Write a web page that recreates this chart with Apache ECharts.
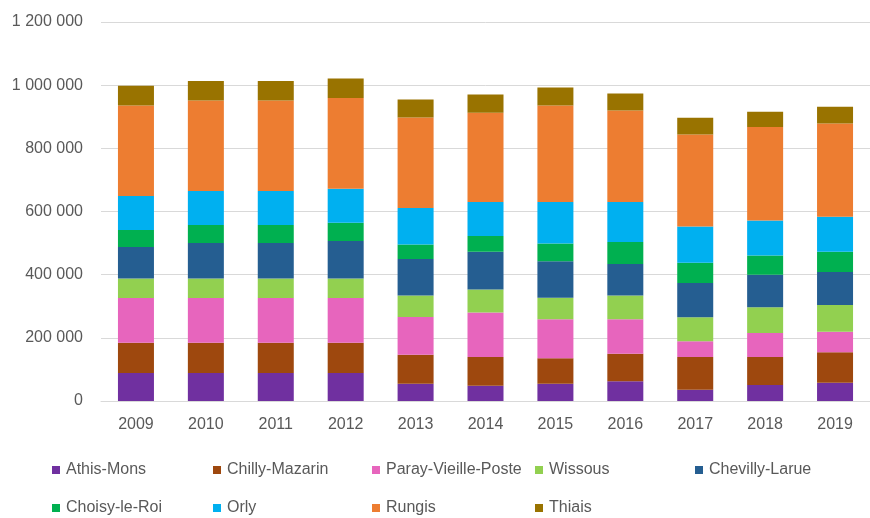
<!DOCTYPE html>
<html>
<head>
<meta charset="utf-8">
<script src="https://cdn.jsdelivr.net/npm/echarts@6/dist/echarts.min.js"></script>
<style>
  html, body { margin: 0; padding: 0; background: #fff; }
  #chart { width: 870px; height: 518px; }
</style>
</head>
<body>
<div id="chart"></div>
<script>
const years = ['2009', '2010', '2011', '2012', '2013', '2014', '2015', '2016', '2017', '2018', '2019'];

// values
const athisMons = [88600, 88600, 88600, 88600, 54900, 48500, 54900, 62300, 35900, 50600, 58000];
const chillyMazarin = [96000, 96000, 96000, 96000, 91700, 90800, 80100, 87500, 103400, 88700, 96000];
const parayVieillePoste = [141400, 141400, 141400, 141400, 119300, 141300, 123500, 108700, 49600, 75900, 65400];
const wissous = [62200, 62200, 62200, 62200, 68500, 72800, 68500, 75900, 75900, 81300, 84400];
const chevillyLarue = [99200, 111800, 111800, 118200, 115000, 119200, 115100, 99200, 108700, 103300, 104500];
const choisyLeRoi = [53800, 57000, 57000, 58000, 46500, 49600, 56900, 69600, 64300, 61200, 64300];
const orly = [107600, 107600, 107600, 107600, 114900, 107600, 130800, 126600, 115000, 110800, 110800];
const rungis = [287000, 287000, 287000, 287000, 287000, 282800, 306000, 290200, 291200, 295400, 295400];
const thiais = [62200, 61200, 61200, 62200, 57000, 58000, 57000, 53800, 52700, 48500, 52800];

const seriesNames = ['Athis-Mons', 'Chilly-Mazarin', 'Paray-Vieille-Poste', 'Wissous', 'Chevilly-Larue',
  'Choisy-le-Roi', 'Orly', 'Rungis', 'Thiais'];
const seriesData = [athisMons, chillyMazarin, parayVieillePoste, wissous, chevillyLarue,
  choisyLeRoi, orly, rungis, thiais];
const colors = ['#7030A0', '#9E480E', '#E765BD', '#92D050', '#255E91', '#00B050', '#00B0F0', '#ED7D31', '#997300'];

const font = "'Liberation Sans', Arial, sans-serif";
const textColor = '#595959';

const chart = echarts.init(document.getElementById('chart'), null, { renderer: 'canvas' });

// one legend per item so the columns line up like the original
const legendPos = [
  [52, 462], [213, 462], [372, 462], [535, 462], [695, 462],
  [52, 500], [213, 500], [372, 500], [535, 500]
];
const legends = seriesNames.map((name, i) => ({
  data: [name],
  left: legendPos[i][0],
  top: legendPos[i][1],
  icon: 'rect',
  itemWidth: 8,
  itemHeight: 8,
  itemGap: 0,
  padding: 0,
  textStyle: { color: textColor, fontFamily: font, fontSize: 16, padding: [0, 0, 0, 1] }
}));

const option = {
  backgroundColor: '#fff',
  animation: false,
  color: colors,
  legend: legends,
  grid: { left: 101, right: -3, top: 22, bottom: 117 },
  xAxis: {
    type: 'category',
    data: years,
    axisLine: { show: true, lineStyle: { color: '#d9d9d9' } },
    axisTick: { show: false },
    axisLabel: { color: textColor, fontFamily: font, fontSize: 16, margin: 16 }
  },
  yAxis: {
    type: 'value',
    min: 0,
    max: 1200000,
    interval: 200000,
    axisLine: { show: false },
    axisTick: { show: false },
    splitLine: { lineStyle: { color: '#d9d9d9', width: 1 } },
    axisLabel: {
      color: textColor,
      fontFamily: font,
      fontSize: 16,
      margin: 18,
      formatter: v => v.toString().replace(/\B(?=(\d{3})+(?!\d))/g, ' ')
    }
  },
  series: seriesNames.map((name, i) => ({
    name: name,
    type: 'bar',
    stack: 'total',
    barWidth: 36,
    data: seriesData[i]
  }))
};

chart.setOption(option);
</script>
</body>
</html>
